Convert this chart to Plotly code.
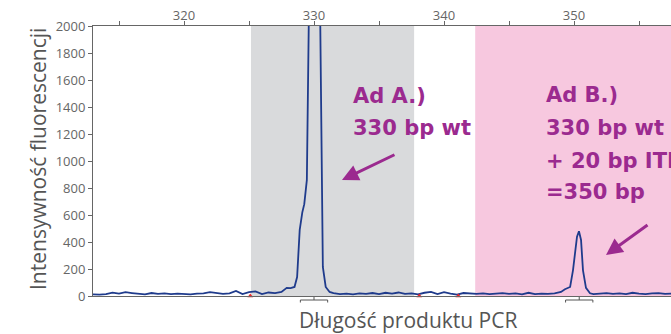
import plotly.graph_objects as go

# ---- data ----
bp = [313, 313.5, 314, 314.5, 315, 315.5, 316, 316.5, 317, 317.5, 318, 318.5, 319, 319.5,
      320, 320.5, 321, 321.5, 322, 322.5, 323, 323.5, 324, 324.5, 325, 325.5, 326, 326.5,
      327, 327.5,
      327.9, 328.2, 328.5, 328.7, 328.9, 329.1, 329.25, 329.45, 329.62, 330.0, 330.45,
      330.58, 330.68, 330.9, 331.2,
      331.5, 332, 332.5, 333, 333.5, 334, 334.5, 335, 335.5, 336, 336.5, 337, 337.5, 338,
      338.5, 339, 339.5, 340, 340.5, 341, 341.5, 342, 342.5, 343, 343.5, 344, 344.5, 345,
      345.5, 346, 346.5, 347, 347.5, 348, 348.5, 349,
      349.3, 349.7, 349.92, 350.23, 350.38, 350.54, 350.69, 350.92, 351.23,
      351.5, 352, 352.5, 353, 353.5, 354, 354.5, 355, 355.5, 356, 356.5, 357, 357.5]
intensity = [12, 10, 14, 25, 18, 28, 22, 18, 12, 22, 16, 20, 14, 18,
             16, 12, 18, 20, 28, 24, 16, 20, 38, 14, 28, 34, 14, 26,
             22, 30,
             60, 58, 67, 140, 490, 620, 680, 860, 2300, 5200, 2300,
             860, 215, 67, 30,
             22, 14, 18, 12, 20, 16, 22, 14, 24, 18, 26, 16, 20, 12,
             24, 30, 14, 28, 18, 10, 22, 18, 16, 20, 14, 18, 22, 16,
             20, 12, 24, 14, 18, 16, 20, 30,
             50, 67, 190, 440, 480, 415, 190, 60, 20,
             14, 18, 22, 16, 20, 14, 24, 18, 14, 20, 22, 16, 18]

size_marks = [325.1, 338.1, 341.1]          # red size-standard markers
peak_marks = [330.0, 350.4]                 # bracketed peaks
window_wt = [325.15, 337.7]                 # grey window
window_itd = [342.4, 358.0]                 # pink window

x_range = [313.0, 357.46]
y_range = [0, 2000]

x_title = "Długość produktu PCR"
y_title = "Intensywność fluorescencji"
label_a = ["Ad A.)", "330 bp wt"]
label_b = ["Ad B.)", "330 bp wt", "+ 20 bp ITD", "=350 bp"]

# ---- layout geometry ----
W_FIG, H_FIG = 671, 334
L, T = 93, 26
PW, PH = W_FIG - L, 296 - T
def px_x(px):
    return (px - L) / PW
def px_y(py):
    return (T + PH - py) / PH

purple = "#9B2A8F"
navy = "#1F3B8C"
grey_txt = "#666666"

fig = go.Figure()
fig.add_trace(go.Scatter(x=bp, y=intensity, mode="lines",
                         line=dict(color=navy, width=1.8), hoverinfo="skip",
                         showlegend=False))
fig.add_trace(go.Scatter(x=size_marks, y=[0] * len(size_marks), mode="markers",
                         marker=dict(symbol="triangle-up", size=5, color="#E8282B"),
                         cliponaxis=False, showlegend=False, hoverinfo="skip"))

shapes = [
    dict(type="rect", xref="x", yref="paper", x0=window_wt[0], x1=window_wt[1], y0=0, y1=1,
         fillcolor="#D9DADC", line=dict(width=0), layer="below"),
    dict(type="rect", xref="x", yref="paper", x0=window_itd[0], x1=window_itd[1], y0=0, y1=1,
         fillcolor="#F7C8DF", line=dict(width=0), layer="below"),
]
for c in peak_marks:
    shapes.append(dict(type="path", xref="x", yref="paper",
                       path=(f"M {c},{px_y(297)} L {c},{px_y(300)} "
                             f"M {c-1.05},{px_y(302.5)} L {c-1.05},{px_y(300)} "
                             f"L {c+1.05},{px_y(300)} L {c+1.05},{px_y(302.5)}"),
                       line=dict(color="#555555", width=1)))

annotations = []
# text blocks
a_centers = [96, 128]
for txt, cy in zip(label_a, a_centers):
    annotations.append(dict(text=f"<b>{txt}</b>", xref="paper", yref="paper",
                            x=px_x(351), y=px_y(cy), xanchor="left", yanchor="middle",
                            showarrow=False, font=dict(family="DejaVu Sans", size=21, color=purple)))
b_centers = [95, 128, 161, 192]
for txt, cy in zip(label_b, b_centers):
    annotations.append(dict(text=f"<b>{txt}</b>", xref="paper", yref="paper",
                            x=px_x(544), y=px_y(cy), xanchor="left", yanchor="middle",
                            showarrow=False, font=dict(family="DejaVu Sans", size=21, color=purple)))
# arrows
annotations.append(dict(x=332.15, y=859, xref="x", yref="y", text="", showarrow=True,
                        ax=54, ay=-26, arrowhead=2, arrowsize=1.1, arrowwidth=3,
                        arrowcolor=purple, standoff=0))
annotations.append(dict(x=352.46, y=304, xref="x", yref="y", text="", showarrow=True,
                        ax=43, ay=-31, arrowhead=2, arrowsize=1.1, arrowwidth=3,
                        arrowcolor=purple, standoff=0))
# axis titles
annotations.append(dict(text=x_title, xref="paper", yref="paper", x=px_x(408), y=px_y(320),
                        xanchor="center", yanchor="middle", showarrow=False,
                        font=dict(family="Open Sans", size=21, color="#555555")))
annotations.append(dict(text=y_title, xref="paper", yref="paper", x=px_x(38), y=px_y(159),
                        xanchor="center", yanchor="middle", showarrow=False, textangle=-90,
                        font=dict(family="Open Sans", size=21, color="#555555")))

fig.update_layout(
    width=W_FIG, height=H_FIG,
    margin=dict(l=L, r=0, t=T, b=H_FIG - 296, pad=0),
    paper_bgcolor="white", plot_bgcolor="white",
    shapes=shapes, annotations=annotations,
    xaxis=dict(range=x_range, side="top", showline=True, linecolor="#666666", linewidth=1,
               mirror=True, showgrid=False, zeroline=False,
               tickmode="linear", tick0=320, dtick=10, ticks="outside", ticklen=4,
               tickcolor="#666666", ticklabelstandoff=-4,
               minor=dict(tickmode="linear", tick0=315, dtick=5, ticks="outside", ticklen=4,
                          tickcolor="#666666", showgrid=False),
               tickfont=dict(family="Open Sans", size=13, color=grey_txt)),
    yaxis=dict(range=y_range, showline=True, linecolor="#666666", linewidth=1,
               showgrid=False, zeroline=False, tickmode="linear", tick0=0, dtick=200,
               ticks="outside", ticklen=4, tickcolor="#666666",
               tickfont=dict(family="Open Sans", size=13, color=grey_txt)),
)

fig.write_html("out.html", config={"displayModeBar": False},
               post_script="document.body.style.margin='0';document.body.style.padding='0';")
